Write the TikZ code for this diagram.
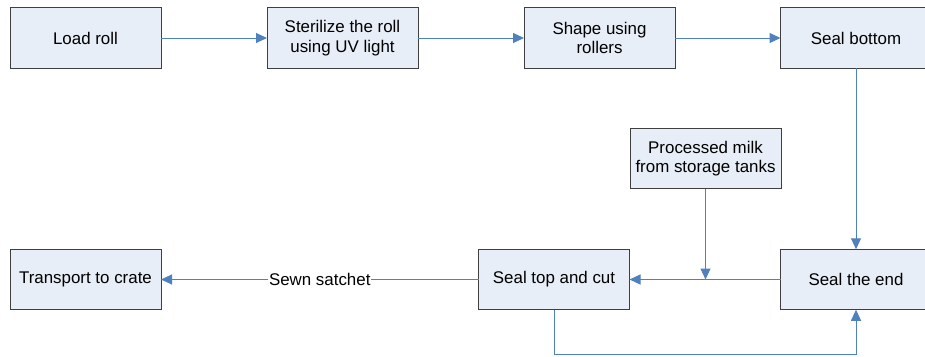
\documentclass[tikz,border=0pt]{standalone}
\usepackage{fontspec}
\setmainfont{Liberation Sans}
\usetikzlibrary{arrows.meta}
\definecolor{boxfill}{HTML}{E8EEF7}
\definecolor{boxline}{HTML}{3F3F3F}
\definecolor{flowblue}{HTML}{4F81BD}
\tikzset{
  stepbox/.style={draw=boxline,fill=boxfill,line width=1pt,minimum width=151pt,
    minimum height=60.5pt,inner sep=2pt,outer sep=0pt,align=center},
  flow/.style={draw=flowblue,line width=1pt,-{Triangle[length=11pt,width=10pt]}}
}

\begin{document}
\begin{tikzpicture}[x=1pt,y=-1pt]
  \fontsize{16.9}{19.5}\selectfont
  \useasboundingbox (0,0) rectangle (925,356);
  \node[stepbox] (load) at (85.5,38) {Load roll};
  \node[stepbox] (steril) at (342.5,38) {Sterilize the roll\\using UV light};
  \node[stepbox] (shape) at (599.5,38) {Shape using\\rollers};
  \node[stepbox] (sealbot) at (856,38) {Seal bottom};
  \node[stepbox] (milk) at (705.5,158.7) {Processed milk\\from storage tanks};
  \node[stepbox] (sealend) at (856,279.5) {Seal the end};
  \node[stepbox] (sealtop) at (554,279.5) {Seal top and cut};
  \node[stepbox] (crate) at (85.5,279.5) {Transport to crate};
  \coordinate (join) at (milk.south |- sealend.west);
  \draw[flow] (load) -- (steril);
  \draw[flow] (steril) -- (shape);
  \draw[flow] (shape) -- (sealbot);
  \draw[flow] (sealbot) -- (sealend);
  \draw[flow] (sealend) -- (sealtop);
  \draw[flow] (milk) -- (join);
  \draw[flow] (sealtop) -- node[fill=white,inner sep=1pt] {Sewn satchet} (crate);
  \draw[flow] (sealtop.south) -- ++(0,45) -| (sealend.south);
\end{tikzpicture}
\end{document}
